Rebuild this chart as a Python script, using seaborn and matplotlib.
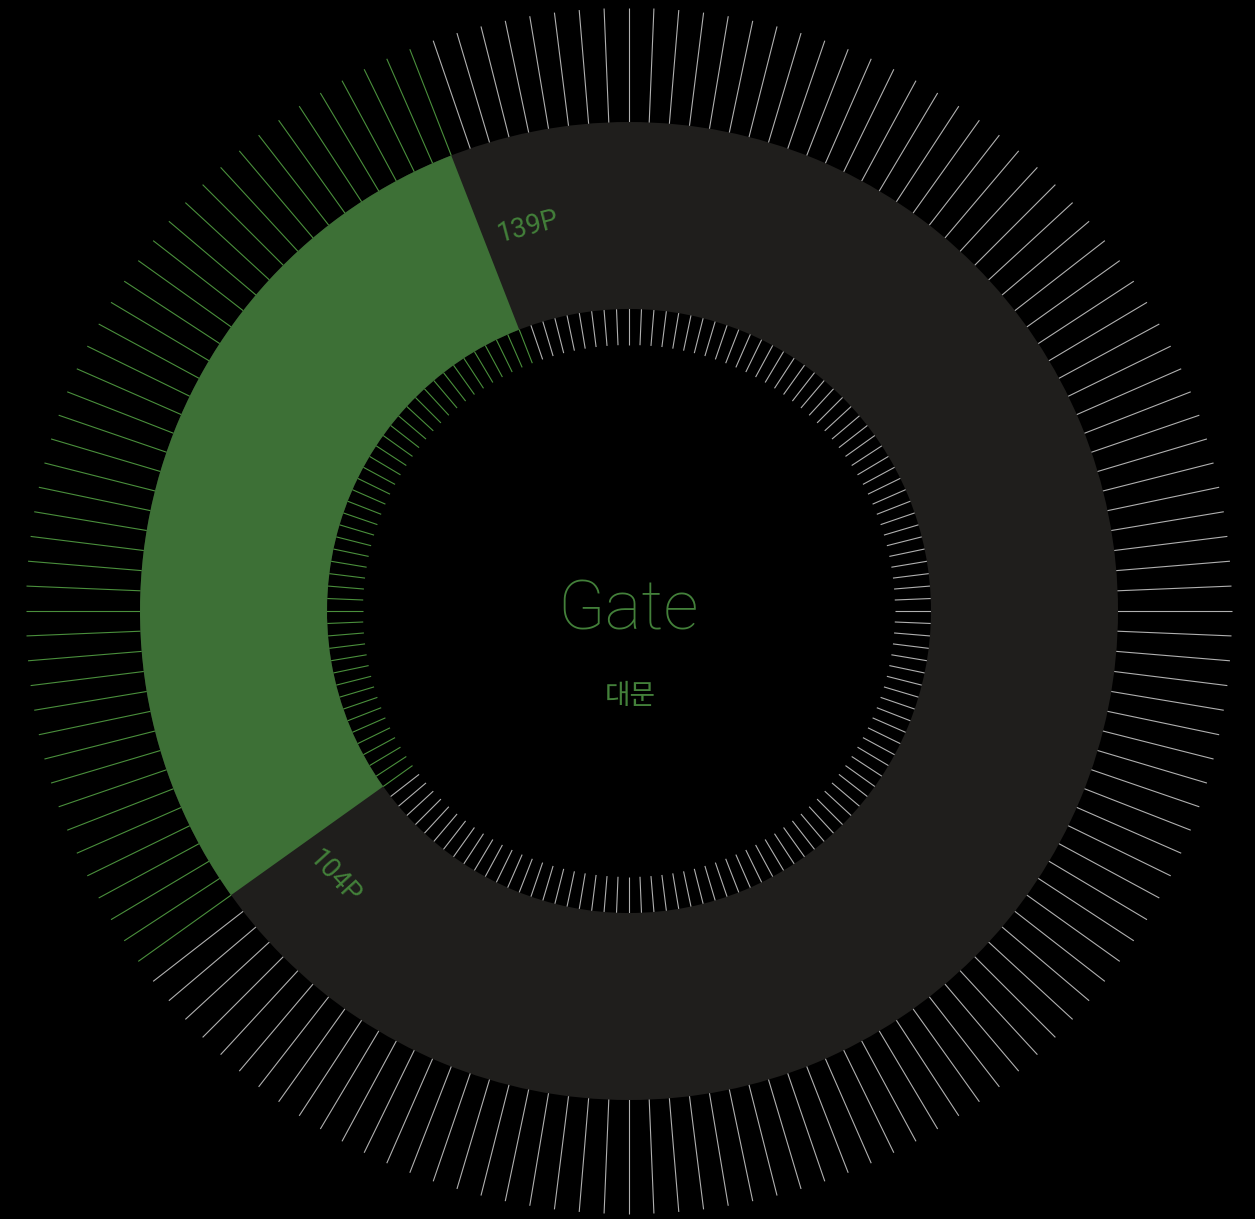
import numpy as np
import matplotlib
matplotlib.use('Agg')
import matplotlib.pyplot as plt
import seaborn as sns

# Data
N_TICKS = 152                 # radial ticks around the dial
arc_ticks = [99, 143]         # green arc, in tick units (start, end)
arc_labels = ['104P', '139P']
title = 'Gate'
subtitle = '대문'

# Colours
BG = '#000000'
RING = '#1f1e1c'
GREEN = '#3d7036'
GREEN_TXT = '#43803a'
GREEN_TICK = '#4a8f3c'
GREY_TICK = '#b0b0b0'

sns.set_theme(style='dark', rc={'axes.facecolor': BG, 'figure.facecolor': BG,
                                'savefig.facecolor': BG})
plt.rcParams['font.family'] = ['Roboto', 'Noto Sans CJK KR', 'DejaVu Sans']

# radii in pixels
R_MAX = 605
R_OUT_TICK = (470, 603)
R_IN_TICK = (266, 310)
R_RING = (302, 489)
LABEL_R = 397
LABEL_PAD = 6.6   # degrees

W, H = 1255, 1219
cx, cy = 629, 608  # centre, pixels from bottom-left
fig = plt.figure(figsize=(W / 100, H / 100), dpi=100)
ax = fig.add_axes([(cx - R_MAX) / W, (cy - R_MAX) / H, 2 * R_MAX / W, 2 * R_MAX / H],
                  projection='polar')
ax.set_theta_zero_location('N')
ax.set_theta_direction(-1)
ax.set_facecolor(BG)

step = 2 * np.pi / N_TICKS
theta = np.arange(N_TICKS) * step
in_arc = (np.arange(N_TICKS) >= arc_ticks[0]) & (np.arange(N_TICKS) <= arc_ticks[1])
tick_colors = np.where(in_arc, GREEN_TICK, GREY_TICK)

# ticks (drawn under the ring)
ax.vlines(theta, R_OUT_TICK[0], R_OUT_TICK[1], colors=tick_colors, lw=0.8, zorder=1)
ax.vlines(theta, R_IN_TICK[0], R_IN_TICK[1], colors=tick_colors, lw=0.8, zorder=1)

# ring + green arc
ax.bar(0, R_RING[1] - R_RING[0], width=2 * np.pi, bottom=R_RING[0], align='edge',
       color=RING, linewidth=0, zorder=2)
t0, t1 = arc_ticks[0] * step, arc_ticks[1] * step
ax.bar(t0, R_RING[1] - R_RING[0], width=t1 - t0, bottom=R_RING[0], align='edge',
       color=GREEN, linewidth=0, zorder=3)

# arc end labels
for tk, lab, side in zip(arc_ticks, arc_labels, [-1, 1]):
    deg = np.degrees(tk * step) + side * LABEL_PAD
    rot = -deg if (deg % 360) > 270 or (deg % 360) < 90 else 180 - deg
    ax.text(np.radians(deg), LABEL_R, lab, color=GREEN_TXT, fontsize=19.5,
            rotation=rot, rotation_mode='anchor',
            ha='center', va='center', zorder=4)

# centre text
ax.text(0.4992, 0.5005, title, transform=ax.transAxes, color=GREEN_TXT,
        fontsize=50, fontweight='light', ha='center', va='center')
ax.text(0.5008, 0.4297, subtitle, transform=ax.transAxes, color=GREEN_TXT,
        fontsize=20, fontweight='light', ha='center', va='center',
        family=['Noto Sans CJK KR', 'DejaVu Sans'])

ax.set_ylim(0, R_MAX)
ax.set_xticks([])
ax.set_yticks([])
ax.grid(False)
ax.spines['polar'].set_visible(False)

plt.savefig('out.png', dpi=100, facecolor=BG)
